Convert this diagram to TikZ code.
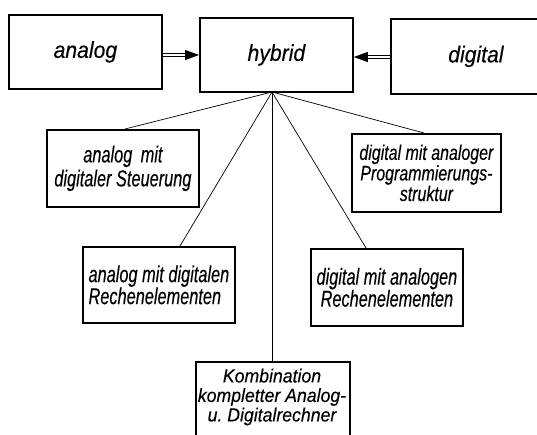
\documentclass[tikz,border=0pt]{standalone}
\usepackage{fontspec}
\setmainfont{Liberation Sans}
\newfontfamily\bigfam{Liberation Sans}[FakeStretch=0.92,FakeBold=0.25]
\newfontfamily\smallfam{Liberation Sans}[FakeStretch=0.71,FakeBold=0.25]
\newfontfamily\progfam{Liberation Sans}[FakeStretch=0.76,FakeBold=0.25]
\newfontfamily\kombfam{Liberation Sans}[FakeStretch=0.93,FakeBold=0.25]
\usetikzlibrary{arrows.meta}
\newcommand\bigtxt{\bigfam\fontsize{23}{26}\selectfont\itshape}
\newcommand\smalltxt{\smallfam\fontsize{23}{22}\selectfont\itshape}
\newcommand\progtxt{\progfam\fontsize{21}{19.5}\selectfont\itshape}
\newcommand\kombtxt{\kombfam\fontsize{19}{19.5}\selectfont\itshape}
\begin{document}
\begin{tikzpicture}[x=1pt,y=-1pt,
  box/.style={draw, line width=1.8pt, anchor=north west, inner sep=0pt, align=center},
  bigbox/.style={box, font=\bigtxt, minimum width=153pt, minimum height=74pt},
  smallbox/.style={box, font=\smalltxt, minimum width=152pt, minimum height=77pt},
  txt/.style={inner sep=0pt, align=center},
  dbl/.style={double, double distance=1.6pt, line width=0.8pt, -{Triangle[length=14pt,width=10pt]}},
  fan/.style={line width=0.7pt}]
\useasboundingbox (0,0) rectangle (537,434);
\node[bigbox] (analog) at (8,14) {analog};
\node[bigbox] (hybrid) at (199,17) {hybrid};
\node[bigbox, minimum width=170pt, minimum height=75pt, text width=153pt] (digital) at (390,18) {digital};
\node[smallbox, font=\smallfam\fontsize{23}{24}\selectfont\itshape] (steu) at (46,129) {analog\, mit\\digitaler Steuerung};
\node[smallbox, minimum width=149pt, minimum height=78pt, font=\progtxt] (prog) at (351,133) {digital mit analoger\\Programmierungs-\\struktur};
\node[smallbox, align=left, minimum height=76pt] (ral) at (82,246) {analog mit digitalen\\Rechenelementen};
\node[smallbox] (dar) at (310,248) {digital mit analogen\\Rechenelementen};
\node[box, minimum width=154pt, minimum height=110pt] (komb) at (195,361) {};
\node[txt, font=\kombtxt] (kombt) at (272,397) {Kombination\\kompletter Analog-\\u.\ Digitalrechner};
\coordinate (hub) at (272,92);
\draw[dbl] (analog.east |- 0,55) -- (hybrid.west |- 0,55);
\draw[dbl] (digital.west |- 0,57) -- (hybrid.east |- 0,57);
\draw[fan] (hub) -- (steu.north -| 125,0);
\draw[fan] (hub) -- (prog.north -| 424,0);
\draw[fan] (hub) -- (ral.north -| 180,0);
\draw[fan] (hub) -- (dar.north -| 366,0);
\draw[fan] (hub) -- (komb.north -| 272,0);
\end{tikzpicture}
\end{document}
